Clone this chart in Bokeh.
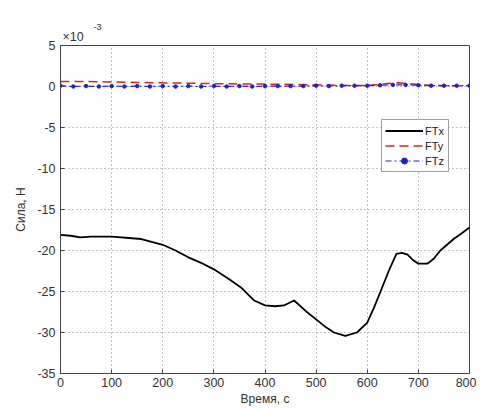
from bokeh.plotting import figure
from bokeh.models import Range1d, Title, Legend, LegendItem, FixedTicker
from bokeh.embed import file_html
from bokeh.resources import INLINE

# Data (force values in units of 1e-3 N)
t_x = [0, 20, 38, 60, 100, 158, 200, 225, 249, 275, 300, 330, 353, 379, 400, 420, 437, 457, 480, 500, 520, 535, 557, 580, 600, 613, 626, 642, 657, 668, 679, 690, 700, 718, 730, 743, 769, 785, 800]
f_x = [-18.1, -18.2, -18.4, -18.3, -18.3, -18.6, -19.3, -20.0, -20.8, -21.5, -22.3, -23.5, -24.5, -26.1, -26.7, -26.8, -26.7, -26.1, -27.4, -28.4, -29.4, -30.0, -30.4, -30.0, -28.8, -27.0, -25.0, -22.5, -20.4, -20.3, -20.5, -21.2, -21.6, -21.6, -21.0, -20.0, -18.6, -17.9, -17.2]

t_y = [0, 50, 100, 150, 200, 250, 300, 350, 400, 450, 500, 550, 600, 630, 660, 690, 720, 760, 800]
f_y = [0.6, 0.6, 0.55, 0.5, 0.45, 0.4, 0.35, 0.3, 0.3, 0.25, 0.2, 0.15, 0.1, 0.3, 0.45, 0.3, 0.15, 0.1, 0.1]

t_z = [0, 25, 50, 75, 100, 125, 150, 175, 200, 225, 250, 275, 300, 325, 350, 375, 400, 425, 450, 475, 500, 525, 550, 575, 600, 625, 650, 675, 700, 725, 750, 775, 800]
f_z = [0.1, 0.0, 0.05, 0.0, 0.05, 0.0, 0.05, 0.0, 0.05, 0.0, 0.05, 0.0, 0.05, 0.0, 0.05, 0.0, 0.05, 0.05, 0.05, 0.05, 0.1, 0.05, 0.1, 0.1, 0.1, 0.15, 0.2, 0.2, 0.15, 0.1, 0.1, 0.1, 0.1]

x_ticks = [0, 100, 200, 300, 400, 500, 600, 700, 800]
y_ticks = [-35, -30, -25, -20, -15, -10, -5, 0, 5]
y_tick_labels = {v: str(v) for v in y_ticks}

p = figure(width=476, height=408, output_backend="svg", toolbar_location=None,
           x_range=Range1d(0, 800), y_range=Range1d(-35, 5),
           min_border_left=60, min_border_right=7, min_border_top=45, min_border_bottom=35)
p.background_fill_color = "white"
p.outline_line_color = "#444444"
p.outline_line_width = 1

for ax in (p.xaxis[0], p.yaxis[0]):
    ax.major_tick_in = 4
    ax.major_tick_out = 0
    ax.minor_tick_in = 0
    ax.minor_tick_out = 0
    ax.axis_line_color = "#444444"
    ax.major_tick_line_color = "#444444"
    ax.major_label_text_font = "Liberation Sans"
    ax.major_label_text_font_size = "12.5px"
    ax.major_label_text_color = "#333333"
    ax.axis_label_text_font = "Liberation Sans"
    ax.axis_label_text_font_size = "12px"
    ax.axis_label_text_font_style = "normal"
    ax.axis_label_text_color = "#333333"

p.xaxis.ticker = FixedTicker(ticks=x_ticks)
p.yaxis.ticker = FixedTicker(ticks=y_ticks)
p.yaxis.major_label_overrides = y_tick_labels
p.xaxis.major_label_standoff = 4
p.yaxis.major_label_standoff = 5
p.xaxis.axis_label = "Время, с"
p.yaxis.axis_label = "Сила, Н"
p.xaxis.axis_label_standoff = 2
p.yaxis.axis_label_standoff = 6

p.grid.grid_line_color = "#888888"
p.grid.grid_line_dash = "1 3"
p.grid.grid_line_width = 1
p.xgrid.ticker = FixedTicker(ticks=x_ticks)
p.ygrid.ticker = FixedTicker(ticks=y_ticks)

rx = p.line(t_x, f_x, line_color="black", line_width=1.8, line_join="round")
ry = p.line(t_y, f_y, line_color="#e02020", line_width=1.5, line_dash="9 5")
rz = p.line(t_z, f_z, line_color="#2020d0", line_width=1.2, line_dash="6 3 2 3")
rzm = p.scatter(t_z, f_z, size=3.5, color="#2020d0", marker="circle")

legend = Legend(items=[
    LegendItem(label="FTx", renderers=[rx]),
    LegendItem(label="FTy", renderers=[ry]),
    LegendItem(label="FTz", renderers=[rz, rzm]),
], location=(321, 201))
legend.label_text_font = "Liberation Sans"
legend.label_text_font_size = "11px"
legend.label_text_color = "#222222"
legend.glyph_width = 38
legend.glyph_height = 15
legend.label_height = 15
legend.spacing = 0
legend.padding = 3
legend.margin = 0
legend.label_standoff = 2
legend.border_line_color = "#444444"
legend.background_fill_alpha = 1
p.add_layout(legend, "center")

p.add_layout(Title(text="×10", offset=2, standoff=4, text_font="Liberation Sans",
                   text_font_size="12.5px", text_font_style="normal", text_color="#333333"), "above")
p.add_layout(Title(text="-3", offset=33, standoff=-8, text_font="Liberation Sans",
                   text_font_size="9px", text_font_style="normal", text_color="#333333"), "above")

open("out.html", "w").write(file_html(p, INLINE))
